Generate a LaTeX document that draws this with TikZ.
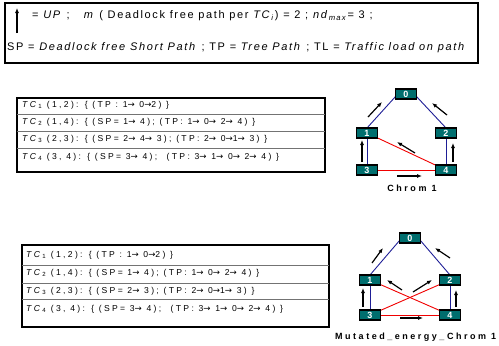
\documentclass[tikz,border=0pt]{standalone}
\usepackage{fontspec}
\setmainfont{Liberation Sans}
\newfontfamily\keyfont[LetterSpace=15]{Liberation Sans}
\newfontfamily\rowfont[LetterSpace=27]{Liberation Sans}
\newfontfamily\capfont[LetterSpace=28]{Liberation Sans}
\newfontfamily\arrowfont[LetterSpace=27]{DejaVu Sans}
\newcommand\rarr{{\arrowfont →}}
\usetikzlibrary{arrows.meta}
\definecolor{nodeteal}{RGB}{0,110,110}
\definecolor{linkblue}{RGB}{30,30,150}
\definecolor{linkred}{RGB}{240,0,0}
\begin{document}
\begin{tikzpicture}[x=1pt,y=-1pt,
  router/.style={draw=black,line width=1.1pt,fill=nodeteal,minimum width=21pt,minimum height=10pt,inner sep=0pt,text=white,font=\bfseries\fontsize{9}{9}\selectfont},
  blink/.style={draw=linkblue,line width=0.9pt},
  rlink/.style={draw=linkred,line width=0.9pt},
  flow/.style={-{Latex[length=5pt,width=4pt]},line width=1.2pt,black},
  frame/.style={draw=black,line width=1.6pt},
  rowsep/.style={draw=black!55,line width=0.8pt},
  rowtext/.style={anchor=west,inner sep=0pt,font=\rowfont\fontsize{8.6}{9}\selectfont},
  keytext/.style={anchor=west,inner sep=0pt,font=\keyfont\fontsize{11}{12}\selectfont},
  caption/.style={inner sep=0pt,font=\capfont\bfseries\fontsize{9}{10}\selectfont}
]
\useasboundingbox (0,0) rectangle (499,346);

% legend box
\draw[frame] (5,3) rectangle (478,63);
\coordinate (up0) at (17,33);
\coordinate (up1) at (17,8);
\draw[flow] (up0) -- (up1);
\node[keytext] (key1) at (32,16) {= \textit{UP} ;\ \ \ \textit{m} ( Deadlock free path per \textit{TC}\textsubscript{\textit{i}}) = 2 ; \textit{nd}\textsubscript{\textit{max}}= 3 ;};
\node[keytext] (key2) at (7,48) {SP = \textit{Deadlock free Short Path} ; TP = \textit{Tree Path} ; TL = \textit{Traffic load on path}};

% traffic-class table, chromosome 1
\draw[frame] (17,98) rectangle (325,172);
\draw[rowsep] (17,114) -- (325,114) (17,131) -- (325,131) (17,148) -- (325,148);
\node[rowtext] (ta1) at (22,105) {\textit{TC}\textsubscript{1} (1,2): \{ (TP : 1\rarr{} 0\rarr{}2) \}};
\node[rowtext] (ta2) at (22,122) {\textit{TC}\textsubscript{2} (1,4): \{ (SP= 1\rarr{} 4); (TP: 1\rarr{} 0\rarr{} 2\rarr{} 4) \}};
\node[rowtext] (ta3) at (22,139) {\textit{TC}\textsubscript{3} (2,3): \{ (SP= 2\rarr{} 4\rarr{} 3); (TP: 2\rarr{} 0\rarr{}1\rarr{} 3) \}};
\node[rowtext] (ta4) at (22,157) {\textit{TC}\textsubscript{4} (3, 4): \{ (SP= 3\rarr{} 4);\ \ (TP: 3\rarr{} 1\rarr{} 0\rarr{} 2\rarr{} 4) \}};

% traffic-class table, mutated chromosome
\draw[frame] (22,245) rectangle (329,327);
\draw[rowsep] (22,265) -- (329,265) (22,283) -- (329,283) (22,299) -- (329,299);
\node[rowtext] (tb1) at (26,255) {\textit{TC}\textsubscript{1} (1,2): \{ (TP : 1\rarr{} 0\rarr{}2) \}};
\node[rowtext] (tb2) at (26,273) {\textit{TC}\textsubscript{2} (1,4): \{ (SP= 1\rarr{} 4); (TP: 1\rarr{} 0\rarr{} 2\rarr{} 4) \}};
\node[rowtext] (tb3) at (26,291) {\textit{TC}\textsubscript{3} (2,3): \{ (SP= 2\rarr{} 3); (TP: 2\rarr{} 0\rarr{}1\rarr{} 3) \}};
\node[rowtext] (tb4) at (26,309) {\textit{TC}\textsubscript{4} (3, 4): \{ (SP= 3\rarr{} 4);\ \ (TP: 3\rarr{} 1\rarr{} 0\rarr{} 2\rarr{} 4) \}};

% network, chromosome 1
\coordinate (n0) at (406,94);
\coordinate (n1) at (367,133);
\coordinate (n2) at (446,133);
\coordinate (n3) at (367,170);
\coordinate (n4) at (446,170);
\draw[blink] (367,128) -- (396,96);
\draw[blink] (416,96) -- (446,128);
\draw[blink] (n1) -- (n3);
\draw[blink] (n2) -- (n4);
\draw[rlink] (n1) -- (n4);
\draw[rlink] (n3) -- (n4);
\node[router] (r0) at (n0) {0};
\node[router] (r1) at (n1) {1};
\node[router] (r2) at (n2) {2};
\node[router] (r3) at (n3) {3};
\node[router] (r4) at (n4) {4};
\coordinate (a01s) at (368,117); \coordinate (a01e) at (382,102);
\coordinate (a02s) at (447,115); \coordinate (a02e) at (432,103);
\coordinate (a13s) at (362,162); \coordinate (a13e) at (362,140);
\coordinate (a24s) at (453,162); \coordinate (a24e) at (453,143);
\coordinate (a14s) at (415,153); \coordinate (a14e) at (397,142);
\coordinate (a34s) at (397,176); \coordinate (a34e) at (422,176);
\draw[flow] (a01s) -- (a01e);
\draw[flow] (a02s) -- (a02e);
\draw[flow] (a13s) -- (a13e);
\draw[flow] (a24s) -- (a24e);
\draw[flow] (a14s) -- (a14e);
\draw[flow] (a34s) -- (a34e);
\node[caption] (cap1) at (412,188) {Chrom 1};

% network, mutated chromosome
\coordinate (m0) at (410,238);
\coordinate (m1) at (370,280);
\coordinate (m2) at (450,280);
\coordinate (m3) at (370,315);
\coordinate (m4) at (450,315);
\draw[blink] (370,275) -- (400,240);
\draw[blink] (420,240) -- (450,275);
\draw[blink] (m1) -- (m3);
\draw[blink] (m2) -- (m4);
\draw[rlink] (m1) -- (m4);
\draw[rlink] (m2) -- (m3);
\draw[rlink] (m3) -- (m4);
\node[router] (s0) at (m0) {0};
\node[router] (s1) at (m1) {1};
\node[router] (s2) at (m2) {2};
\node[router] (s3) at (m3) {3};
\node[router] (s4) at (m4) {4};
\coordinate (b01s) at (372,263); \coordinate (b01e) at (383,248);
\coordinate (b02s) at (450,258); \coordinate (b02e) at (435,248);
\coordinate (b13s) at (363,307); \coordinate (b13e) at (363,288);
\coordinate (b24s) at (456,307); \coordinate (b24e) at (456,290);
\coordinate (b14s) at (402,290); \coordinate (b14e) at (387,280);
\coordinate (b23s) at (413,292); \coordinate (b23e) at (432,280);
\coordinate (b34s) at (400,318); \coordinate (b34e) at (423,318);
\draw[flow] (b01s) -- (b01e);
\draw[flow] (b02s) -- (b02e);
\draw[flow] (b13s) -- (b13e);
\draw[flow] (b24s) -- (b24e);
\draw[flow] (b14s) -- (b14e);
\draw[flow] (b23s) -- (b23e);
\draw[flow] (b34s) -- (b34e);
\node[caption,anchor=west] (cap2) at (335,337) {Mutated\_energy\_Chrom 1};
\end{tikzpicture}
\end{document}
